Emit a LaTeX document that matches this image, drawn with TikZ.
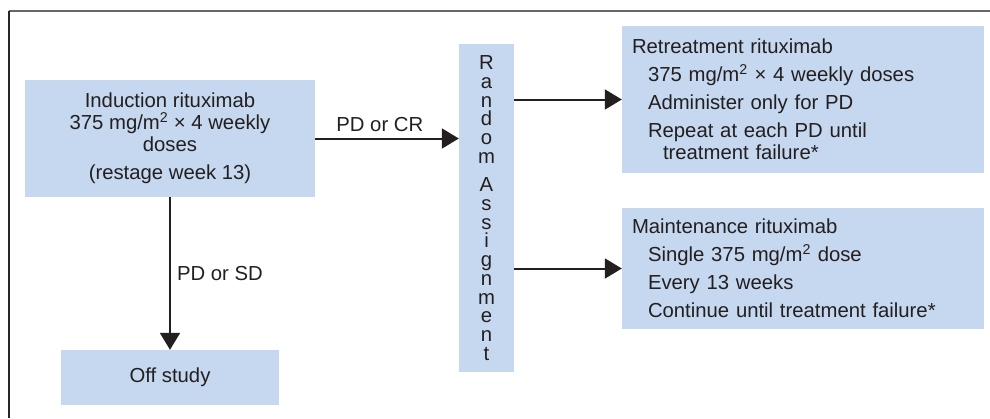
\documentclass[tikz,border=0pt]{standalone}
\usepackage{fontspec}
\setmainfont{Liberation Sans}
\usetikzlibrary{arrows.meta}
\definecolor{boxblue}{HTML}{C5D8EF}
\definecolor{ink}{HTML}{231F20}

\tikzset{
	box/.style = {fill=boxblue, inner sep=0pt, text=ink},
	flow/.style = {ink, line width=2pt, -{Triangle[length=17pt,width=20pt]}},
	lbl/.style = {text=ink, inner sep=6pt},
}

\begin{document}
\begin{tikzpicture}[x=1pt, y=-1pt, font=\fontsize{20.3}{22}\selectfont]
	\useasboundingbox (0,0) rectangle (990,418);

	% frame
	\draw[line width=1.5pt, color=black!60] (8.5,11) -- (990,11);
	\draw[line width=1.5pt, color=black!85] (9,10.5) -- (9,418);

	\node[box, minimum width=290pt, minimum height=117pt, align=center] (induct) at (170,138.5)
		{Induction rituximab\\375 mg/m\textsuperscript{2} × 4 weekly\\doses\\[6pt](restage week 13)};
	\node[box, minimum width=218pt, minimum height=55pt] (offst) at (170,377.5) {Off study};

	\node[box, minimum width=55pt, minimum height=328pt, align=center, font=\fontsize{20.3}{18.7}\selectfont] (rand) at (486.5,208)
		{R\\a\\n\\d\\o\\m\\[10pt]A\\s\\s\\i\\g\\n\\m\\e\\n\\t};

	\node[box, minimum width=362pt, minimum height=147pt, text width=342pt, align=left] (retreat) at (803,99.5)
		{Retreatment rituximab\\[6pt]
		\hspace*{16pt}375 mg/m\textsuperscript{2} × 4 weekly doses\\[6pt]
		\hspace*{16pt}Administer only for PD\\[6pt]
		\hspace*{16pt}Repeat at each PD until\\
		\hspace*{31pt}treatment failure*};
	\node[box, minimum width=362pt, minimum height=121pt, text width=342pt, align=left] (maint) at (803,268.5)
		{Maintenance rituximab\\[6pt]
		\hspace*{16pt}Single 375 mg/m\textsuperscript{2} dose\\[6pt]
		\hspace*{16pt}Every 13 weeks\\[6pt]
		\hspace*{16pt}Continue until treatment failure*};

	\draw[flow] (induct) -- (induct -| rand.west) node[lbl, pos=0.45, above] {PD or CR};
	\draw[flow] (induct) -- (offst) node[lbl, midway, right] {PD or SD};
	\draw[flow] (retreat -| rand.east) -- (retreat);
	\draw[flow] (maint -| rand.east) -- (maint);

\end{tikzpicture}
\end{document}
